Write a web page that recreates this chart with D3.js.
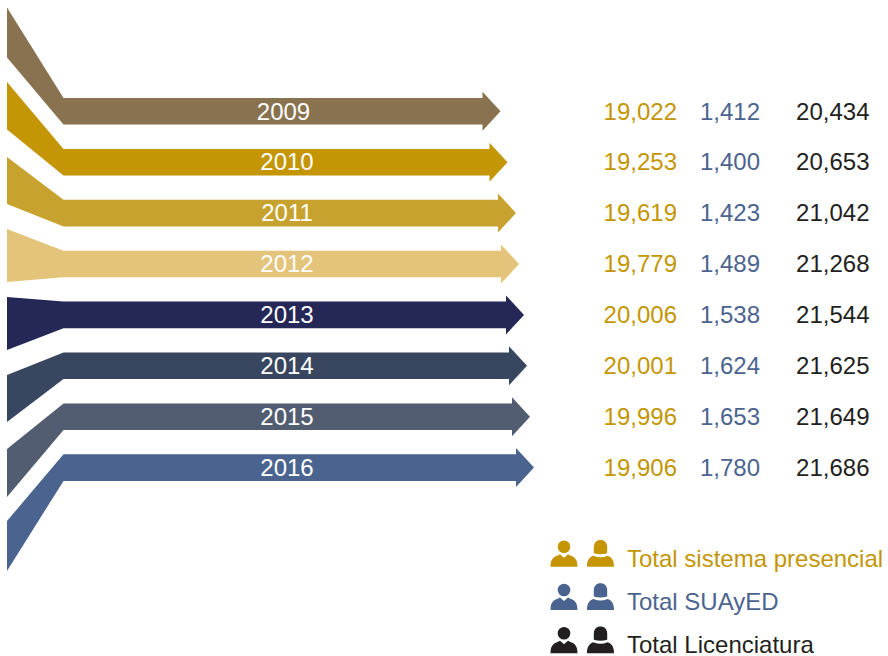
<!DOCTYPE html>
<html lang="en">
<head>
  <meta charset="UTF-8" />
  <script src="https://d3js.org/d3.v7.min.js"></script>
  <title>Licenciatura</title>
  <style>
    html, body { margin: 0; background: #fff; }
    svg { display: block; }
    text { font-family: "Liberation Sans", Arial, sans-serif; font-size: 24px; }
  </style>
</head>
<body>
<svg id="chart" width="888" height="656"></svg>
<script>
// values
var years = ["2009","2010","2011","2012","2013","2014","2015","2016"];
var presencial = [19022,19253,19619,19779,20006,20001,19996,19906];
var suayed = [1412,1400,1423,1489,1538,1624,1653,1780];
var totals = [20434,20653,21042,21268,21544,21625,21649,21686];
var colors = ["#89724f","#c49606","#c7a22e","#e3c47a","#252756","#38475f","#535d72","#4b648f"];
var legendLabels = ["Total sistema presencial","Total SUAyED","Total Licenciatura"];
var legendColors = ["#c49606","#4b648f","#231f20"];

var svg = d3.select("#chart");
var fmt = d3.format(",d");

// row position of the straight part of every arrow
var y = d3.scalePoint().domain(years).range([111.3, 467.6]);
// the fan on the left edge, top and bottom of each strip
var fanTop = d3.scaleOrdinal().domain(years).range([7.5,82,157,229,297,375,449,521]);
var fanBottom = d3.scaleOrdinal().domain(years).range([57.5,129.5,204,282,350,422,497,571]);
// arrow tip follows the total, the picture is not quite linear so piecewise
var tipX = d3.scaleLinear().domain(totals).range([500.5,507.5,516,519,524,527,530,534]);

var leftX = 7, elbowX = 63.5, halfBar = 13.3, halfHead = 19.5, headLen = 18;

function arrowPath(year, i) {
  var p = d3.path();
  var c = y(year), tip = tipX(totals[i]);
  p.moveTo(leftX, fanTop(year));
  p.lineTo(elbowX, c - halfBar);
  p.lineTo(tip - headLen, c - halfBar);
  p.lineTo(tip - headLen, c - halfHead);
  p.lineTo(tip, c);
  p.lineTo(tip - headLen, c + halfHead);
  p.lineTo(tip - headLen, c + halfBar);
  p.lineTo(elbowX, c + halfBar);
  p.lineTo(leftX, fanBottom(year));
  p.closePath();
  return p.toString();
}

svg.append("g").selectAll("path")
  .data(years)
  .join("path")
    .attr("d", arrowPath)
    .attr("fill", function(d, i) { return colors[i]; });

svg.append("g").selectAll("text")
  .data(years)
  .join("text")
    .attr("x", function(d, i) { return i == 0 ? 283.5 : 287; })
    .attr("y", function(d) { return y(d) + 8.2; })
    .attr("text-anchor", "middle")
    .attr("fill", "#fff")
    .text(function(d) { return d; });

// the three number columns, right aligned
var columns = [
  {values: presencial, x: 677, color: legendColors[0]},
  {values: suayed, x: 760, color: legendColors[1]},
  {values: totals, x: 869.5, color: legendColors[2]}
];
columns.forEach(function(col) {
  svg.append("g").selectAll("text")
    .data(col.values)
    .join("text")
      .attr("x", col.x)
      .attr("y", function(d, i) { return y(years[i]) + 8.2; })
      .attr("text-anchor", "end")
      .attr("fill", col.color)
      .text(function(d) { return fmt(d); });
});

// legend
var legendY = d3.scalePoint().domain(legendLabels).range([567, 652.5]);
var iconY = d3.scalePoint().domain(legendLabels).range([546.7, 633.3]);

function person(g, cx, cy, woman) {
  var body = d3.path();
  body.moveTo(cx - 13.5, cy + 20);
  body.bezierCurveTo(cx - 13.5, cy + 13, cx - 11, cy + 10.5, cx - 7, cy + 9);
  if (woman) {
    // rounded collar line under the hair
    body.quadraticCurveTo(cx, cy + 12, cx + 7, cy + 9);
  } else {
    body.lineTo(cx - 4, cy + 7.5);
    body.lineTo(cx, cy + 11);
    body.lineTo(cx + 4, cy + 7.5);
    body.lineTo(cx + 7, cy + 9);
  }
  body.bezierCurveTo(cx + 11, cy + 10.5, cx + 13.5, cy + 13, cx + 13.5, cy + 20);
  body.closePath();
  g.append("path").attr("d", body.toString());
  if (woman) {
    // hair is wider than the head and stops above the shoulders
    var hair = d3.path();
    hair.moveTo(cx - 6.7, cy + 6.5);
    hair.lineTo(cx - 6.7, cy + 0.5);
    hair.bezierCurveTo(cx - 6.7, cy - 4, cx - 4, cy - 6.7, cx, cy - 6.7);
    hair.bezierCurveTo(cx + 4, cy - 6.7, cx + 6.7, cy - 4, cx + 6.7, cy + 0.5);
    hair.lineTo(cx + 6.7, cy + 6.5);
    hair.quadraticCurveTo(cx, cy + 8.5, cx - 6.7, cy + 6.5);
    hair.closePath();
    g.append("path").attr("d", hair.toString());
  } else {
    g.append("circle").attr("cx", cx).attr("cy", cy).attr("r", 6.3);
  }
}

legendLabels.forEach(function(label, i) {
  var g = svg.append("g").attr("fill", legendColors[i]);
  person(g, 564, iconY(label), false);
  person(g, 600.5, iconY(label), true);
  g.append("text")
    .attr("x", 627)
    .attr("y", legendY(label))
    .text(label);
});
</script>
</body>
</html>
